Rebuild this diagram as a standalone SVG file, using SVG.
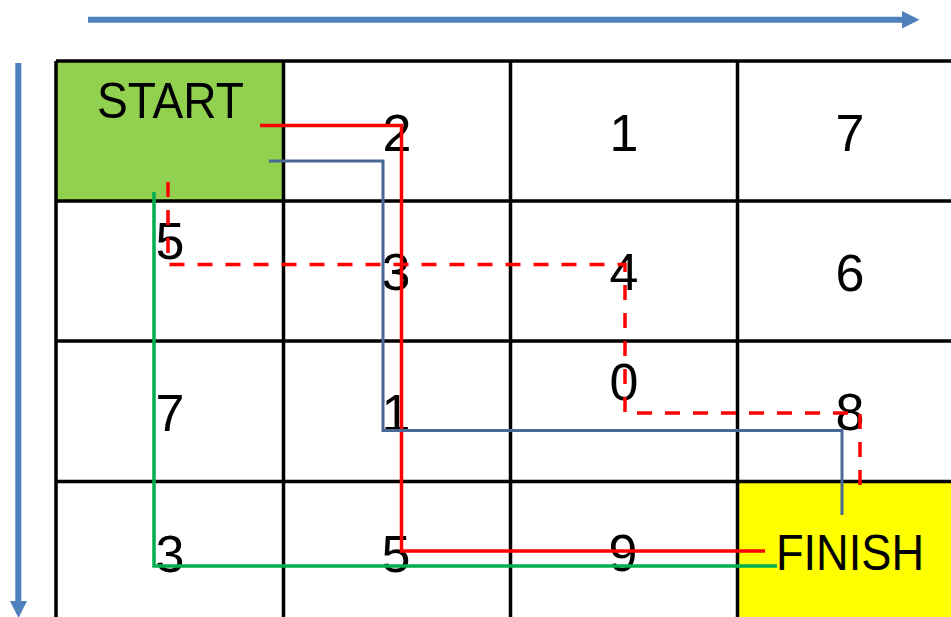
<svg xmlns="http://www.w3.org/2000/svg" width="951" height="617" viewBox="0 0 951 617">
<style>
.grid{stroke:#000;stroke-width:3.5;fill:none}
.num{font-family:"Liberation Sans",Arial,sans-serif;font-size:52px;fill:#000;text-anchor:middle}
.lbl{font-family:"Liberation Sans",Arial,sans-serif;font-size:50px;fill:#000}
.axis{stroke:#4f81bd;stroke-width:6;fill:none}
.path{fill:none;stroke-linejoin:miter}
</style>
<rect width="951" height="617" fill="#fff"/>
<g id="axes">
<line class="axis" x1="88" y1="19.7" x2="903" y2="19.7"/>
<polygon points="902,11 919.5,19.7 902,28.5" fill="#4f81bd"/>
<line class="axis" x1="18.3" y1="63" x2="18.3" y2="602"/>
<polygon points="10,601 27,601 18.5,618" fill="#4f81bd"/>
</g>
<g id="cell-start"><rect x="57" y="62" width="226" height="138" fill="#92d050"/>
<text class="lbl" x="97" y="118" textLength="147" lengthAdjust="spacingAndGlyphs">START</text></g>
<g id="cell-finish"><rect x="738" y="482" width="213" height="135" fill="#ffff00"/>
<text class="lbl" x="776" y="570" textLength="148" lengthAdjust="spacingAndGlyphs">FINISH</text></g>
<g id="grid">
<path class="grid" d="M56,61V617M283.5,61V617M510.5,61V617M737.5,61V617M56,61H951M56,201H951M56,341H951M56,481.5H951"/>
</g>
<g id="numbers">
<g id="c01"><text class="num" x="397" y="151">2</text></g>
<g id="c02"><text class="num" x="624" y="151">1</text></g>
<g id="c03"><text class="num" x="850" y="151">7</text></g>
<g id="c10"><text class="num" x="170" y="259">5</text></g>
<g id="c11"><text class="num" x="396" y="290">3</text></g>
<g id="c12"><text class="num" x="624" y="290">4</text></g>
<g id="c13"><text class="num" x="850" y="291">6</text></g>
<g id="c20"><text class="num" x="170" y="431">7</text></g>
<g id="c21"><text class="num" x="396" y="431">1</text></g>
<g id="c22"><text class="num" x="624" y="400">0</text></g>
<g id="c23"><text class="num" x="850" y="430">8</text></g>
<g id="c30"><text class="num" x="170" y="572">3</text></g>
<g id="c31"><text class="num" x="396" y="572">5</text></g>
<g id="c32"><text class="num" x="623" y="571">9</text></g>
</g>
<g id="connectors">
<path class="path" d="M260,125.5H401.5V551H765" stroke="#ff0000" stroke-width="3.5"/>
<path class="path" d="M269,161H383V430.5H842V515" stroke="#4a6896" stroke-width="3"/>
<path class="path" d="M154,192V566H777" stroke="#00b050" stroke-width="3.5"/>
<path class="path" d="M168,182V264.5H625V413H860V487" stroke="#ff0000" stroke-width="3.5" stroke-dasharray="15 13"/>
</g>
</svg>
